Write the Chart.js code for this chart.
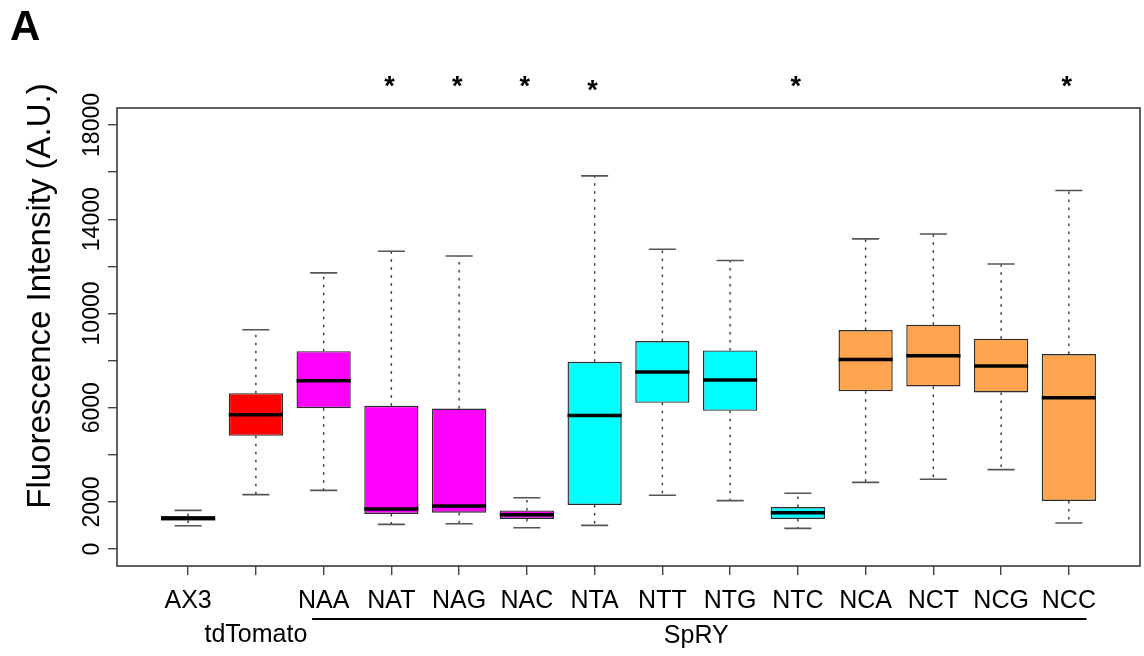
<!DOCTYPE html>
<html>
<head>
<meta charset="utf-8">
<script src="https://cdn.jsdelivr.net/npm/chart.js@4.4.1/dist/chart.umd.min.js"></script>
<style>
html,body{margin:0;padding:0;background:#ffffff;}
#wrap{width:1144px;height:656px;position:relative;}
</style>
</head>
<body>
<div id="wrap"><canvas id="c" width="1144" height="656"></canvas></div>
<script>
// ---- data ----
const categories = ['AX3','tdTomato','NAA','NAT','NAG','NAC','NTA','NTT','NTG','NTC','NCA','NCT','NCG','NCC'];
const whiskerLow  = [ 990, 2310, 2490, 1045, 1075,  905, 1005, 2280, 2055,  875, 2830, 2960, 3370, 1105];
const q1          = [1210, 4805, 5980, 1490, 1545, 1275, 1870, 6205, 5865, 1275, 6700, 6900, 6645, 2040];
const median      = [1300, 5700, 7140, 1700, 1830, 1460, 5670, 7510, 7170, 1545, 8050, 8205, 7765, 6420];
const q3          = [1400, 6615, 8400, 6080, 5965, 1640, 7950, 8825, 8430, 1785, 9295, 9525, 8930, 8275];
const whiskerHigh = [1640, 9310,11720,12640,12440, 2180,15840,12725,12245, 2365,13165,13375,12100,15220];
const boxColors   = ['#1f3535','#FF0000','#FF00FF','#FF00FF','#FF00FF','#FF00FF',
                     '#00FFFF','#00FFFF','#00FFFF','#00FFFF','#FFA54F','#FFA54F','#FFA54F','#FFA54F'];
const significant = [false,false,false,true,true,true,true,false,false,true,false,false,false,true];
const yTicks      = [0,2000,4000,6000,8000,10000,12000,14000,16000,18000];
const yTickLabels = ['0','2000','','6000','','10000','','14000','','18000'];
const lowerRowLabels = ['tdTomato'];
const groupLabel  = 'SpRY';
const groupMembers = ['NAA','NCC'];
const yTitle      = 'Fluorescence Intensity (A.U.)';
const panelLabel  = 'A';

const FONT = '"Liberation Sans", Arial, Helvetica, sans-serif';

const boxExtras = {
  id: 'boxExtras',
  beforeDatasetsDraw(chart) {
    const ctx = chart.ctx, xs = chart.scales.x, ys = chart.scales.y;
    const meta = chart.getDatasetMeta(0);
    ctx.save();
    categories.forEach((c, i) => {
      const x = xs.getPixelForValue(i + 1);
      const w = meta.data[i].width;
      ctx.setLineDash([2.5, 5.5]);
      ctx.strokeStyle = '#333';
      ctx.lineWidth = 1.4;
      ctx.beginPath();
      ctx.moveTo(x, ys.getPixelForValue(q3[i]));
      ctx.lineTo(x, ys.getPixelForValue(whiskerHigh[i]));
      ctx.moveTo(x, ys.getPixelForValue(q1[i]));
      ctx.lineTo(x, ys.getPixelForValue(whiskerLow[i]));
      ctx.stroke();
      ctx.setLineDash([]);
      ctx.strokeStyle = '#555';
      ctx.lineWidth = 1.6;
      ctx.beginPath();
      const hy = ys.getPixelForValue(whiskerHigh[i]);
      const ly = ys.getPixelForValue(whiskerLow[i]);
      ctx.moveTo(x - w / 4, hy); ctx.lineTo(x + w / 4, hy);
      ctx.moveTo(x - w / 4, ly); ctx.lineTo(x + w / 4, ly);
      ctx.stroke();
    });
    ctx.restore();
  },
  afterDatasetsDraw(chart) {
    const ctx = chart.ctx, xs = chart.scales.x, ys = chart.scales.y;
    const meta = chart.getDatasetMeta(0);
    const a = chart.chartArea;
    ctx.save();
    ctx.strokeStyle = '#000';
    ctx.lineWidth = 3.5;
    categories.forEach((c, i) => {
      const x = xs.getPixelForValue(i + 1);
      const w = meta.data[i].width;
      const y = ys.getPixelForValue(median[i]);
      ctx.beginPath();
      ctx.moveTo(x - w / 2, y); ctx.lineTo(x + w / 2, y);
      ctx.stroke();
    });
    ctx.strokeStyle = '#3a3a3a';
    ctx.lineWidth = 1.6;
    ctx.strokeRect(a.left, a.top, a.right - a.left, a.bottom - a.top);
    ctx.restore();
  },
  afterDraw(chart) {
    const ctx = chart.ctx, xs = chart.scales.x, ys = chart.scales.y;
    ctx.save();
    ctx.fillStyle = '#000';
    ctx.font = '25px ' + FONT;
    ctx.textAlign = 'center';
    ctx.textBaseline = 'middle';
    categories.forEach((c, i) => {
      const x = xs.getPixelForValue(i + 1);
      const y = lowerRowLabels.includes(c) ? 635 : 601;
      ctx.fillText(c, x, y);
    });
    const g0 = categories.indexOf(groupMembers[0]) + 1;
    const g1 = categories.indexOf(groupMembers[1]) + 1;
    ctx.strokeStyle = '#000';
    ctx.lineWidth = 2.2;
    ctx.beginPath();
    ctx.moveTo(xs.getPixelForValue(g0 - 0.17), 619);
    ctx.lineTo(xs.getPixelForValue(g1 + 0.26), 619);
    ctx.stroke();
    ctx.fillText(groupLabel, xs.getPixelForValue((g0 + g1) / 2), 636);
    ctx.font = '23px ' + FONT;
    yTicks.forEach((v, i) => {
      if (!yTickLabels[i]) return;
      ctx.save();
      ctx.translate(93, ys.getPixelForValue(v));
      ctx.rotate(-Math.PI / 2);
      ctx.fillText(yTickLabels[i], 0, 0);
      ctx.restore();
    });
    ctx.save();
    ctx.font = '33px ' + FONT;
    ctx.translate(41, 296);
    ctx.rotate(-Math.PI / 2);
    ctx.fillText(yTitle, 0, 0);
    ctx.restore();
    ctx.font = 'bold 27px ' + FONT;
    categories.forEach((c, i) => {
      if (!significant[i]) return;
      const y = c === 'NTA' ? 92 : 88;
      ctx.fillText('*', xs.getPixelForValue(i + 1) - 2, y);
    });
    ctx.font = 'bold 42px ' + FONT;
    ctx.textAlign = 'left';
    ctx.textBaseline = 'alphabetic';
    ctx.fillText(panelLabel, 10, 40);
    ctx.restore();
  }
};

new Chart(document.getElementById('c'), {
  type: 'bar',
  data: {
    datasets: [{
      data: categories.map((c, i) => ({ x: i + 1, y: [q1[i], q3[i]] })),
      backgroundColor: boxColors,
      borderColor: '#2a2a2a',
      borderWidth: 1.4,
      borderSkipped: false,
      barPercentage: 0.8,
      categoryPercentage: 1.0
    }]
  },
  options: {
    responsive: false,
    animation: false,
    devicePixelRatio: 1,
    layout: { padding: { left: 0, top: 108, right: 4, bottom: 0 } },
    plugins: { legend: { display: false }, tooltip: { enabled: false } },
    scales: {
      x: {
        type: 'linear',
        min: -0.05,
        max: 15.05,
        offset: false,
        grid: { offset: false, drawOnChartArea: false, drawTicks: true, tickLength: 9, color: '#444', lineWidth: 1.4 },
        border: { display: false },
        ticks: { display: false },
        afterBuildTicks: s => { s.ticks = categories.map((c, i) => ({ value: i + 1 })); },
        afterFit: s => { s.height = 90; }
      },
      y: {
        type: 'linear',
        min: -720,
        max: 18720,
        grid: { drawOnChartArea: false, drawTicks: true, tickLength: 9, color: '#444', lineWidth: 1.4 },
        border: { display: false },
        ticks: { display: false },
        afterBuildTicks: s => { s.ticks = yTicks.map(v => ({ value: v })); },
        afterFit: s => { s.width = 117; }
      }
    }
  },
  plugins: [boxExtras]
});
</script>
</body>
</html>
